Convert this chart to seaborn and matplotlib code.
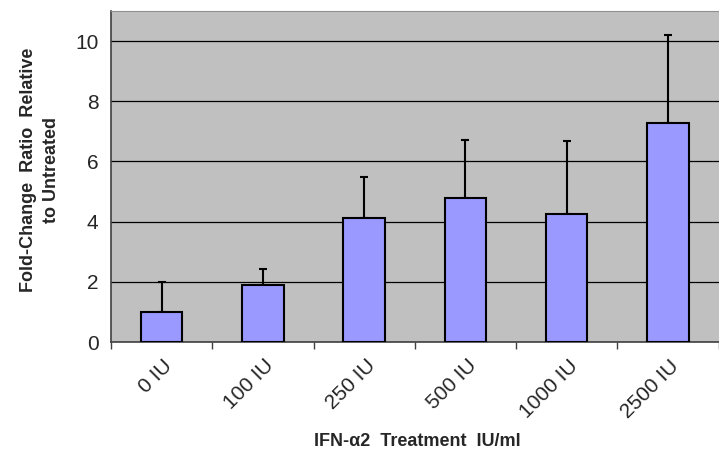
import numpy as np
import pandas as pd
import seaborn as sns
import matplotlib.pyplot as plt
import matplotlib.transforms as mtransforms

# === Data ===
doses = ["0 IU", "100 IU", "250 IU", "500 IU", "1000 IU", "2500 IU"]
fold_change = [1.0, 1.9, 4.11, 4.79, 4.26, 7.28]
err_upper = [0.99, 0.53, 1.38, 1.93, 2.41, 2.93]

df = pd.DataFrame({"dose": doses, "fold": fold_change})

sns.set_style("white")
plt.rcParams["font.family"] = ["Liberation Sans", "DejaVu Sans"]

fig = plt.figure(figsize=(7.19, 4.53), dpi=100)
ax = fig.add_axes([0.1544, 0.245, 0.845, 0.7307])
ax.set_facecolor("#C0C0C0")

sns.barplot(data=df, x="dose", y="fold", color="#9999FF", saturation=1,
            edgecolor="black", linewidth=1.5, width=0.41, ax=ax, zorder=3)

# upper-only error bars
xpos = np.arange(len(doses))
ax.errorbar(xpos, fold_change, yerr=[np.zeros(len(doses)), err_upper],
            fmt="none", ecolor="black", elinewidth=1.5, capsize=3.2,
            capthick=1.5, zorder=2)

ax.set_ylim(0, 11)
ax.set_xlim(-0.5, len(doses) - 0.5)
ax.set_yticks([0, 2, 4, 6, 8, 10])
ax.yaxis.grid(True, color="black", linewidth=0.9, zorder=0)
ax.set_axisbelow(True)

# ticks between categories on x
ax.set_xticks(xpos)
ax.set_xticks(np.arange(-0.5, len(doses) + 0.5, 1), minor=True)
ax.tick_params(axis="x", which="major", length=0, labelsize=15, pad=15)
ax.tick_params(axis="x", which="minor", length=5, width=1, color="#404040",
               direction="out")
ax.tick_params(axis="y", length=5, width=1, color="#404040", direction="out",
               labelsize=15, pad=4)
ax.xaxis.set_tick_params(bottom=True, which="minor")
shift = mtransforms.ScaledTranslation(0.08, 0, fig.dpi_scale_trans)
for lab in ax.get_xticklabels():
    lab.set_rotation(45)
    lab.set_ha("right")
    lab.set_va("center")
    lab.set_rotation_mode("anchor")
    lab.set_transform(lab.get_transform() + shift)

for s in ["left", "bottom"]:
    ax.spines[s].set_color("#404040")
    ax.spines[s].set_linewidth(1.2)
ax.spines["top"].set_color("#909090")
ax.spines["right"].set_visible(False)

ax.set_xlabel("")
ax.set_ylabel("")
# axis titles placed like the original
fig.text(417.5 / 719, 1 - 441 / 453, "IFN-α2  Treatment  IU/ml",
         fontsize=13, fontweight="bold", ha="center", va="center")
fig.text(40 / 719, 1 - 170 / 453, "Fold-Change  Ratio  Relative\nto Untreated",
         fontsize=13, fontweight="bold", ha="center", va="center",
         rotation=90, linespacing=1.45, multialignment="center")

plt.savefig("out.png", dpi=100)
